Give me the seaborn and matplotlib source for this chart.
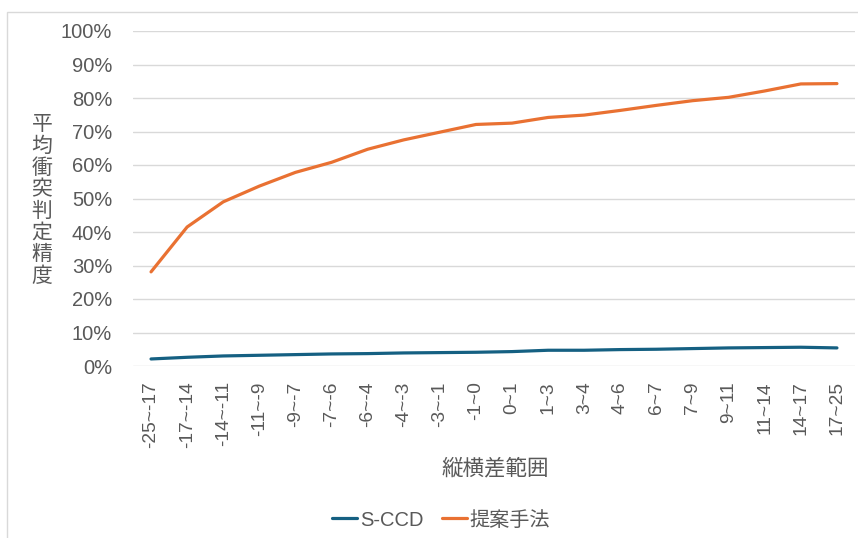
import matplotlib
matplotlib.use("Agg")
import matplotlib.pyplot as plt
import matplotlib.patches as mpatches
import seaborn as sns
import pandas as pd

categories = ["-25~-17", "-17~-14", "-14~-11", "-11~-9", "-9~-7", "-7~-6", "-6~-4",
              "-4~-3", "-3~-1", "-1~0", "0~1", "1~3", "3~4", "4~6", "6~7", "7~9",
              "9~11", "11~14", "14~17", "17~25"]
sccd = [0.021, 0.026, 0.030, 0.032, 0.034, 0.036, 0.037, 0.039, 0.040, 0.041,
        0.043, 0.047, 0.047, 0.049, 0.050, 0.052, 0.054, 0.055, 0.056, 0.054]
proposed = [0.281, 0.415, 0.490, 0.537, 0.578, 0.608, 0.647, 0.675, 0.698, 0.721,
            0.725, 0.742, 0.749, 0.763, 0.778, 0.792, 0.802, 0.821, 0.842, 0.843]
series_names = ["S-CCD", "提案手法"]
palette = {"S-CCD": "#156082", "提案手法": "#E97132"}

df = pd.DataFrame({
    "range": categories * 2,
    "acc": sccd + proposed,
    "method": [series_names[0]] * len(categories) + [series_names[1]] * len(categories),
})

sns.set_theme(style="white")
fam = ["Liberation Sans", "Noto Sans CJK JP"]
plt.rcParams["font.family"] = fam
text_color = "#595959"

fig = plt.figure(figsize=(8.58, 5.38), dpi=100)
ax = fig.add_axes([0.155, 1 - 366 / 538, 0.9965 - 0.155, (366 - 31) / 538])

sns.lineplot(data=df, x="range", y="acc", hue="method", palette=palette,
             sort=False, linewidth=2.3, ax=ax, legend=False)

ax.set_xlim(-0.5, len(categories) - 0.5)
ax.set_ylim(0, 1.0)
ax.set_yticks([i / 10 for i in range(11)])
ax.set_yticklabels([f"{i * 10}%" for i in range(11)], fontsize=14.5, color=text_color)
ax.set_xticks(range(len(categories)))
ax.set_xticklabels(categories, rotation=90, fontsize=13.8, color=text_color)
ax.tick_params(axis="both", length=0)
ax.tick_params(axis="x", pad=11)
ax.tick_params(axis="y", pad=15)
ax.grid(axis="y", color="#d9d9d9", linewidth=1.0)
ax.set_axisbelow(True)
for s in ax.spines.values():
    s.set_visible(False)
ax.set_xlabel("")
ax.set_ylabel("")

fig.text(42 / 858, 1 - 200 / 538, "\n".join("平均衝突判定精度"), ha="center", va="center",
         fontsize=15, color=text_color, family="Noto Sans CJK JP", linespacing=0.98)
fig.text(495 / 858, 1 - 468 / 538, "縦横差範囲", ha="center", va="center",
         fontsize=15.5, color=text_color, family="Noto Sans CJK JP")

handles = [plt.Line2D([], [], color=palette[n], linewidth=2.3) for n in series_names]
fig.legend(handles, series_names, loc="center", bbox_to_anchor=(441 / 858, 1 - 520 / 538),
           ncol=2, frameon=False, handlelength=1.25, handletextpad=0.15,
           columnspacing=0.9, labelcolor=text_color, prop={"family": fam, "size": 14.5})

fig.patches.append(mpatches.Rectangle((7 / 858, -0.01), 1.0, 1 - 12 / 538 + 0.01,
                                      transform=fig.transFigure, fill=False,
                                      edgecolor="#d9d9d9", linewidth=1.0))

fig.savefig("out.png", dpi=100, facecolor="white")
